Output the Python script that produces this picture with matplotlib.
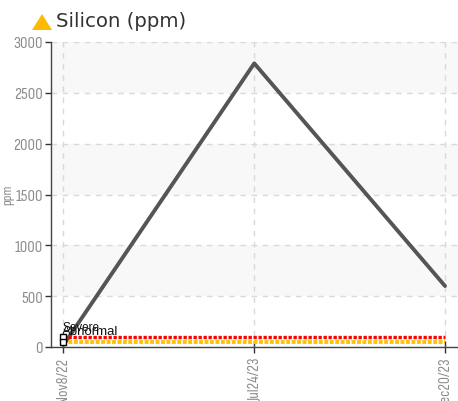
#!/usr/bin/env python3
"""Silicon (ppm) trend chart with severe/abnormal limit lines."""

import matplotlib
matplotlib.use('Agg')
import matplotlib.pyplot as plt
from matplotlib.patches import Polygon
from matplotlib import font_manager

dates = ['Nov8/22', 'Jul24/23', 'Dec20/23']
silicon = [20, 2790, 600]
severe = [100, 100, 100]
abnormal = [50, 50, 50]
y_ticks = [0, 500, 1000, 1500, 2000, 2500, 3000]
bands = [(500, 1000), (1500, 2000), (2500, 3000)]

W, H = 458, 402

# Narrow font for the axis labels, whichever is there
names = {f.name for f in font_manager.fontManager.ttflist}
narrow = 'Liberation Sans'
for name in ['Sofia Sans Condensed', 'Sofia Sans Extra Condensed', 'Liberation Sans Narrow']:
    if name in names:
        narrow = name
        break

fig = plt.figure(figsize=(W / 100, H / 100), dpi=100)
ax = fig.add_axes([51 / W, 1 - 348 / H, (W - 51) / W, 305 / H])

x = list(range(len(dates)))

# Alternating background bands
for lo, hi in bands:
    ax.axhspan(lo, hi, color='#f8f8f8', lw=0, zorder=0)

ax.grid(True, color='#d9d9d9', linestyle=(0, (4, 4)), linewidth=1)
ax.set_axisbelow(True)

ax.plot(x, silicon, color='#555555', linewidth=2.8, solid_capstyle='round', zorder=3)
ax.plot(x, severe, color='#ff0000', linewidth=2.4, linestyle=(0, (1, 0.5)), zorder=4)
ax.plot(x, abnormal, color='#ffc20a', linewidth=2.8, linestyle=(0, (1, 0.4)), zorder=4)

# Limit markers and labels at the first date
ax.plot([0, 0], [severe[0], abnormal[0]], linestyle='none', marker='s', markersize=5,
        markerfacecolor='white', markeredgecolor='black', markeredgewidth=1, zorder=5)
ax.annotate('Severe', xy=(0, severe[0]), xytext=(-0.5, 5), textcoords='offset points',
            fontsize=8.5, color='#111111', family='Liberation Sans', zorder=6)
ax.annotate('Abnormal', xy=(0, abnormal[0]), xytext=(-1, 6), textcoords='offset points',
            fontsize=9.5, color='#111111', family='Liberation Sans', zorder=6)

ax.set_xlim(-0.0655, 2.068)
ax.set_ylim(0, 3000)
ax.set_xticks(x)
ax.set_xticklabels(dates, rotation=90, fontsize=11.3, color='#8c8c8c', family=narrow)
ax.set_yticks(y_ticks)
ax.set_yticklabels([str(v) for v in y_ticks], fontsize=12, color='#8c8c8c', family=narrow)
ax.tick_params(axis='both', length=4, width=1, color='#333333', pad=2)
ax.tick_params(axis='x', direction='inout', length=8, pad=3)
for side in ['top', 'right']:
    ax.spines[side].set_visible(False)
for side in ['left', 'bottom']:
    ax.spines[side].set_color('#444444')
    ax.spines[side].set_linewidth(1)

fig.text(8 / W, 1 - 195 / H, 'ppm', rotation=90, fontsize=10, color='#8c8c8c',
         family=narrow, ha='center', va='center')

# Warning triangle and title
fig.add_artist(Polygon([(32 / W, 1 - 31 / H), (52 / W, 1 - 31 / H), (42 / W, 1 - 15 / H)],
                       closed=True, facecolor='#ffb900', edgecolor='none',
                       transform=fig.transFigure))
fig.text(56 / W, 1 - 21.5 / H, 'Silicon (ppm)', fontsize=14.2, color='#333333',
         family='DejaVu Sans', ha='left', va='center')

fig.savefig('out.png', dpi=100)
